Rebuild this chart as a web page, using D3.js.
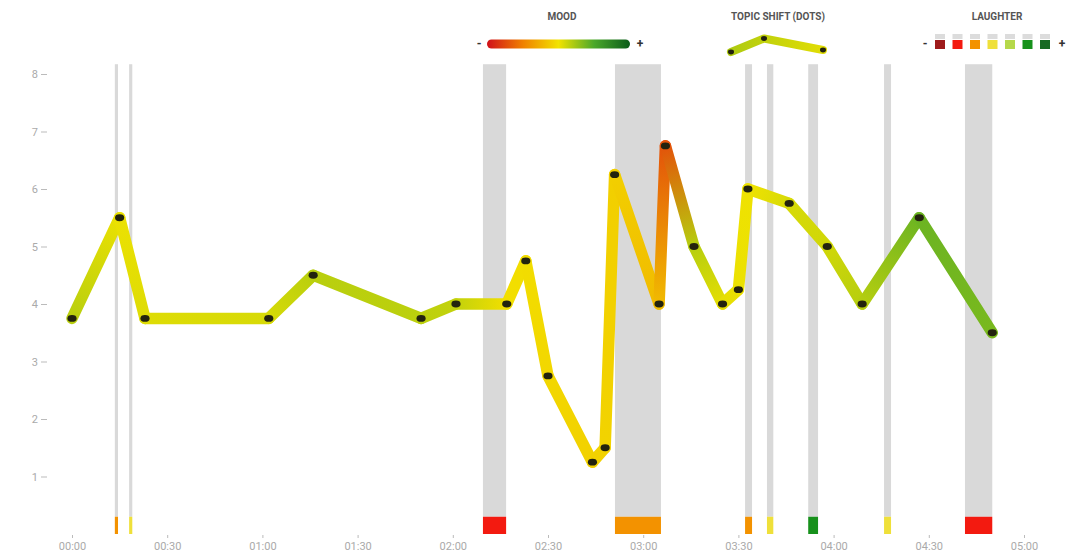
<!DOCTYPE html>
<html><head><meta charset="utf-8">
<script src="https://cdn.jsdelivr.net/npm/d3@7"></script>
<style>
html,body{margin:0;padding:0;background:#fff;}
svg{display:block;font-family:Roboto,"Noto Sans",sans-serif;}
</style></head>
<body>
<svg id="chart" width="1069" height="560"></svg>
<script>
// ---- data ----
const times  = [0, 15, 23, 62, 76, 110, 121, 137, 143, 150, 164, 168, 171, 185, 187, 196, 205, 210, 213, 226, 238, 249, 267, 290]; // minutes
const values = [3.75, 5.5, 3.75, 3.75, 4.5, 3.75, 4, 4, 4.75, 2.75, 1.25, 1.5, 6.25, 4, 6.75, 5, 4, 4.25, 6, 5.75, 5, 4, 5.5, 3.5];
const moods  = [0.17, 0.02, 0.06, 0.08, 0.17, 0.16, 0.14, -0.02, -0.03, -0.06, -0.09, -0.08, -0.1, -0.2, -0.7, 0.18, 0.04, 0.02, 0.01, 0.08, 0.1, 0.18, 0.4, 0.36];
const laughStart = [13.5, 18, 129.5, 171.1, 212.1, 219, 232, 255.9, 281.4];
const laughEnd   = [14.5, 19, 136.8, 185.6, 214.3, 221, 235.1, 258.1, 290];
const laughLevel = [2, 3, 1, 2, 2, 3, 5, 3, 1];
const laughColors = ["#9e1b1b", "#f31a10", "#f39200", "#efe03a", "#b5d84a", "#17911c", "#176a22"];
const moodStops  = [-1, -0.5, 0, 0.5, 1];
const moodColors = ["#d0101a", "#f08000", "#f2e300", "#4aa82a", "#0b5c1a"];
const xTicks = [0, 30, 60, 90, 120, 150, 180, 210, 240, 270, 300];
const yTicks = [1, 2, 3, 4, 5, 6, 7, 8];
const legendTitles = ["MOOD", "TOPIC SHIFT (DOTS)", "LAUGHTER"];

// ---- scales ----
const svg = d3.select("#chart");
const x = d3.scaleLinear().domain([0, 300]).range([72, 1024]);
const y = d3.scaleLinear().domain([0, 8]).range([534, 74]);
const moodColor = d3.scaleLinear().domain(moodStops).range(moodColors);
const fmt = m => String(Math.floor(m / 60)).padStart(2, "0") + ":" + String(m % 60).padStart(2, "0");

const defs = svg.append("defs");

// ---- laughter bands ----
const bands = svg.append("g");
laughStart.forEach((s, i) => {
  bands.append("rect")
    .attr("x", x(s)).attr("width", x(laughEnd[i]) - x(s))
    .attr("y", y(8.17)).attr("height", y(0.3) - y(8.17))
    .attr("fill", "#d9d9d9");
  bands.append("rect")
    .attr("x", x(s)).attr("width", x(laughEnd[i]) - x(s))
    .attr("y", y(0.3)).attr("height", y(0) - y(0.3))
    .attr("fill", laughColors[laughLevel[i]]);
});

// ---- axes ----
const yAxis = svg.append("g").attr("transform", "translate(47,0)")
  .call(d3.axisLeft(y).tickValues(yTicks).tickSize(6).tickPadding(3).tickFormat(d3.format("d")));
yAxis.select(".domain").remove();
yAxis.selectAll("line").attr("stroke", "#bbb");
yAxis.selectAll("text").attr("fill", "#aaa").style("font-size", "11px").style("font-family", "Roboto");

const xAxis = svg.append("g").attr("transform", "translate(0,535)")
  .call(d3.axisBottom(x).tickValues(xTicks).tickSize(3).tickPadding(4).tickFormat(fmt));
xAxis.select(".domain").remove();
xAxis.selectAll("line").attr("stroke", "#bbb");
xAxis.selectAll("text").attr("fill", "#aaa").style("font-size", "11px").style("font-family", "Roboto");

// ---- mood line (segment gradients) ----
const line = svg.append("g");
for (let i = 0; i < times.length - 1; i++) {
  const x1 = x(times[i]), y1 = y(values[i]), x2 = x(times[i + 1]), y2 = y(values[i + 1]);
  const gid = "seg" + i;
  const g = defs.append("linearGradient").attr("id", gid)
    .attr("gradientUnits", "userSpaceOnUse")
    .attr("x1", x1).attr("y1", y1).attr("x2", x2).attr("y2", y2);
  g.append("stop").attr("offset", 0).attr("stop-color", moodColor(moods[i]));
  g.append("stop").attr("offset", 1).attr("stop-color", moodColor(moods[i + 1]));
  line.append("line")
    .attr("x1", x1).attr("y1", y1).attr("x2", x2).attr("y2", y2)
    .attr("stroke", `url(#${gid})`).attr("stroke-width", 11.5).attr("stroke-linecap", "round");
}
svg.append("g").selectAll("ellipse").data(times).join("ellipse")
  .attr("cx", (d) => x(d)).attr("cy", (d, i) => y(values[i]))
  .attr("rx", 4.6).attr("ry", 3.4).attr("fill", "#23230e");

// ---- legend ----
const lg = svg.append("g").style("font-family", "Roboto");
const titleX = [562, 778, 997];
legendTitles.forEach((t, i) => {
  lg.append("text").attr("x", titleX[i]).attr("y", 20).attr("text-anchor", "middle")
    .attr("fill", "#555").style("font-size", "10px").style("font-weight", "bold").text(t);
});
// mood gradient bar
const mg = defs.append("linearGradient").attr("id", "moodLegend");
moodStops.forEach((s, i) => mg.append("stop").attr("offset", (s + 1) / 2).attr("stop-color", moodColors[i]));
lg.append("rect").attr("x", 487).attr("y", 39.5).attr("width", 143).attr("height", 9).attr("rx", 4.5)
  .attr("fill", "url(#moodLegend)");
const signs = [[479, "-"], [640, "+"], [925, "-"], [1062, "+"]];
signs.forEach(s => lg.append("text").attr("x", s[0]).attr("y", 48).attr("text-anchor", "middle")
  .attr("fill", "#333").style("font-size", "12px").style("font-weight", "bold").text(s[1]));
// topic shift icon
const iconPts = [[731, 52], [764, 38.5], [823, 50]];
const tg = defs.append("linearGradient").attr("id", "topicLegend").attr("gradientUnits", "userSpaceOnUse")
  .attr("x1", 731).attr("x2", 823).attr("y1", 0).attr("y2", 0);
tg.append("stop").attr("offset", 0).attr("stop-color", moodColor(0.2));
tg.append("stop").attr("offset", 1).attr("stop-color", moodColor(0.05));
lg.append("path").attr("d", d3.line()(iconPts)).attr("fill", "none")
  .attr("stroke", "url(#topicLegend)").attr("stroke-width", 8).attr("stroke-linecap", "round").attr("stroke-linejoin", "round");
lg.selectAll("ellipse.ic").data(iconPts).join("ellipse").attr("class", "ic")
  .attr("cx", d => d[0]).attr("cy", d => d[1]).attr("rx", 3).attr("ry", 2.4).attr("fill", "#23230e");
// laughter squares
laughColors.forEach((c, i) => {
  const sx = 935 + i * 17.5;
  lg.append("rect").attr("x", sx).attr("y", 34).attr("width", 10).attr("height", 5).attr("fill", "#dcdcdc");
  lg.append("rect").attr("x", sx).attr("y", 40).attr("width", 10).attr("height", 9).attr("fill", c);
});
</script>
</body></html>
